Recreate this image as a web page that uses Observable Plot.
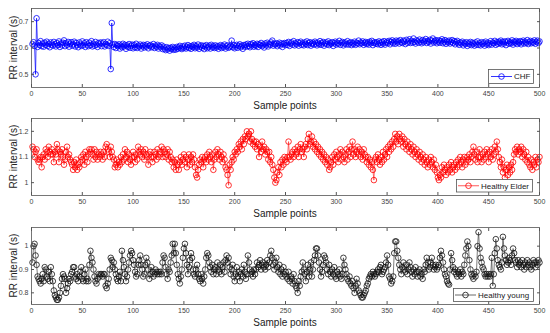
<!DOCTYPE html>
<html><head><meta charset="utf-8">
<script src="https://cdn.jsdelivr.net/npm/d3@7"></script>
<script src="https://cdn.jsdelivr.net/npm/@observablehq/plot@0.6"></script>
<style>
body{margin:0;background:#fff;}
#wrap{position:relative;width:550px;height:333px;overflow:hidden;font-family:"Liberation Sans",Arial,sans-serif;}
.panel{position:absolute;left:0;}
#leg{position:absolute;left:0;top:0;}
</style></head>
<body><div id="wrap"></div>
<script>
// RR intervals in milliseconds, samples 1..500
const chf = [
615,622,608,500,713,604,619,611,626,607,
617,605,620,612,624,608,616,603,621,613,
609,623,614,606,619,611,625,604,617,610,
620,629,607,618,612,623,605,616,622,609,
614,624,606,619,611,603,621,613,608,625,
610,618,604,622,613,607,620,611,626,606,
616,609,623,612,604,619,614,621,607,617,
622,606,615,611,624,608,618,520,695,613,
604,615,600,611,607,614,598,609,603,616,
606,612,597,610,604,615,601,608,613,599,
611,603,616,600,609,605,613,598,607,612,
602,610,605,614,599,608,611,603,606,615,
600,609,604,612,598,607,603,610,596,605,
598,592,603,595,600,590,601,596,604,593,
599,594,604,597,602,608,600,596,606,601,
609,598,604,611,600,606,597,608,603,612,
599,607,602,613,597,605,610,601,608,596,
606,611,599,604,609,598,612,603,607,600,
610,602,607,597,605,611,600,608,603,613,
598,606,610,601,604,609,628,603,611,599,
606,612,601,608,614,603,609,597,611,605,
613,606,616,608,603,615,610,618,605,612,
608,616,604,614,611,619,607,613,602,617,
610,620,606,615,612,621,628,609,616,613,
618,607,614,620,610,617,604,615,619,611,
619,612,623,608,617,621,613,626,610,618,
614,622,609,619,624,612,617,610,621,615,
625,611,618,622,609,616,620,613,624,617,
610,620,615,626,612,618,623,609,617,621,
614,625,611,619,616,622,608,618,624,613,
620,616,627,612,619,623,610,617,621,614,
626,613,618,622,611,619,615,624,612,620,
617,628,614,621,618,625,612,619,623,615,
620,613,624,618,627,611,619,622,616,621,
614,625,619,612,623,617,626,613,620,624,
619,627,614,623,629,618,624,616,628,621,
626,617,630,622,619,628,624,615,631,620,
625,633,619,627,621,636,623,617,629,625,
620,632,624,618,630,622,627,634,619,626,
623,631,617,628,636,621,626,630,618,624,
629,620,626,633,618,624,630,616,625,621,
628,617,623,630,619,626,614,622,627,618,
612,621,617,624,610,619,615,622,608,618,
614,623,611,620,616,609,621,613,625,612,
618,610,622,615,620,609,624,614,619,611,
617,626,613,621,618,627,612,622,616,624,
619,628,614,623,617,625,611,621,627,616,
622,618,629,613,624,620,627,615,623,619,
626,614,622,628,617,624,619,630,615,622,
627,618,624,620,629,616,623,628,619,625
];
const elder = [
1140,1130,1100,1120,1130,1090,1080,1090,1100,1060,
1100,1110,1090,1130,1120,1100,1140,1120,1110,1130,
1110,1080,1120,1110,1150,1130,1080,1120,1110,1130,
1100,1070,1090,1120,1140,1100,1110,1090,1080,1070,
1050,1080,1060,1090,1050,1070,1060,1080,1100,1090,
1110,1070,1120,1100,1080,1110,1130,1120,1130,1110,
1090,1130,1100,1120,1090,1110,1100,1120,1110,1090,
1120,1100,1140,1150,1130,1120,1100,1140,1120,1100,
1090,1060,1070,1090,1060,1080,1070,1100,1080,1110,
1090,1130,1100,1120,1080,1110,1090,1070,1100,1120,
1100,1080,1110,1090,1140,1120,1110,1130,1100,1120,
1090,1130,1110,1100,1070,1110,1120,1100,1080,1100,
1120,1110,1090,1130,1100,1110,1120,1140,1100,1130,
1120,1100,1110,1130,1090,1120,1100,1080,1090,1060,
1080,1050,1090,1070,1050,1080,1100,1070,1090,1110,
1080,1100,1060,1090,1110,1070,1100,1080,1110,1090,
1060,1030,1020,1050,1070,1090,1080,1100,1060,1090,
1100,1080,1110,1090,1120,1100,1080,1110,1050,1090,
1120,1100,1130,1110,1090,1120,1100,1080,1110,1090,
1060,1050,1030,990,1070,1050,1080,1100,1090,1120,
1110,1130,1120,1150,1140,1160,1130,1170,1150,1180,
1170,1200,1180,1190,1160,1200,1170,1150,1160,1140,
1160,1130,1150,1100,1140,1120,1160,1130,1140,1110,
1130,1120,1090,1120,1080,1100,1070,1050,1020,1000,
1010,1040,1060,1030,1080,1060,1090,1070,1100,1090,
1080,1100,1160,1100,1090,1110,1120,1100,1130,1110,
1120,1140,1100,1130,1150,1120,1130,1100,1140,1150,
1130,1170,1190,1150,1160,1180,1140,1160,1130,1150,
1120,1140,1110,1130,1100,1120,1090,1110,1080,1100,
1070,1090,1050,1060,1080,1100,1070,1110,1090,1120,
1100,1080,1110,1130,1090,1120,1100,1080,1110,1130,
1090,1120,1140,1100,1130,1160,1110,1130,1100,1120,
1140,1110,1130,1100,1120,1090,1130,1110,1100,1080,
1100,1070,1090,1060,1080,1050,1010,1090,1100,1080,
1110,1090,1070,1100,1080,1120,1090,1110,1130,1100,
1140,1120,1150,1130,1160,1140,1170,1190,1160,1180,
1150,1190,1170,1160,1180,1140,1170,1150,1130,1160,
1140,1120,1150,1130,1110,1140,1120,1100,1130,1110,
1090,1120,1100,1080,1110,1090,1070,1100,1080,1060,
1090,1070,1100,1080,1060,1090,1050,1070,1040,1020,
1010,1030,1020,1060,1040,1070,1050,1030,1060,1040,
1070,1050,1080,1040,1060,1070,1050,1080,1060,1090,
1070,1100,1080,1060,1090,1100,1070,1080,1100,1090,
1110,1080,1100,1120,1140,1110,1090,1120,1080,1100,
1130,1100,1080,1110,1090,1120,1100,1130,1110,1080,
1120,1100,1130,1090,1110,1140,1120,1160,1130,1100,
1080,1060,1090,1040,1060,1020,1050,1070,1030,1060,
1040,1070,1050,1080,1110,1130,1120,1140,1110,1130,
1120,1140,1100,1130,1110,1090,1120,1080,1100,1070,
1060,1090,1050,1080,1070,1100,1060,1090,1080,1100
];
const young = [
930,1000,1010,960,920,870,860,850,840,860,
880,850,910,900,870,860,890,850,910,880,
850,810,790,780,770,770,780,800,830,860,
880,870,860,800,820,840,860,850,880,890,
910,910,870,860,880,850,870,890,910,860,
850,880,900,850,860,850,920,980,950,930,
900,870,850,840,860,880,870,880,880,870,
880,880,830,820,840,860,900,950,940,910,
930,900,880,860,850,870,890,850,980,940,
910,880,850,870,900,930,960,980,970,940,
920,890,870,880,920,940,960,920,900,870,
880,920,950,930,900,860,880,910,890,870,
880,900,890,880,890,880,890,880,930,960,
950,910,880,860,900,890,930,960,1010,970,
1010,970,920,880,860,840,870,900,950,990,
1010,970,920,880,910,940,970,950,900,880,
870,900,920,880,860,850,880,860,840,870,
900,950,970,960,930,910,890,920,880,900,
910,880,930,900,890,920,880,910,930,890,
940,960,930,950,910,880,900,920,870,850,
880,910,870,890,850,880,900,870,920,890,
860,880,960,930,900,880,890,870,900,880,
900,930,910,920,940,900,920,930,910,900,
920,940,910,930,960,980,950,920,900,930,
950,910,890,920,880,900,870,910,880,890,
870,860,890,850,870,860,840,880,850,830,
820,800,850,830,870,890,930,900,880,850,
890,920,870,900,930,870,900,940,960,990,
990,960,930,900,870,890,920,960,950,930,
900,880,920,890,870,900,880,910,870,860,
890,880,900,870,860,880,950,920,900,880,
860,850,870,840,830,850,820,800,830,860,
840,810,800,790,780,780,790,800,810,830,
840,860,870,880,870,890,880,870,880,890,
900,890,910,920,880,890,900,910,930,960,
920,870,860,840,850,870,970,1020,1020,980,
950,920,900,880,910,930,900,890,920,880,
900,930,910,890,870,900,880,910,890,870,
890,900,870,880,860,900,890,920,950,930,
900,910,930,950,920,900,910,920,900,910,
920,950,980,960,930,900,880,870,850,840,
835,900,970,940,910,890,900,880,870,890,
880,900,870,890,880,920,960,990,1020,1000,
940,900,880,870,860,880,870,890,1000,1060,
990,950,930,910,900,880,870,880,870,880,
870,880,950,830,880,970,1030,990,940,920,
910,900,930,1040,990,960,940,920,930,950,
940,920,960,990,970,940,930,910,940,920,
930,910,940,920,900,930,910,940,920,930,
910,900,920,940,930,910,930,920,940,930
];
const xTicks = [0,50,100,150,200,250,300,350,400,450,500];
const chfTicks = [0.5,0.6,0.7];
const elderTicks = [1,1.1,1.2];
const youngTicks = [0.8,0.9,1];
const seriesNames = ["CHF","Healthy Elder","Healthy young"];
const xLabel = "Sample points";
const yLabel = "RR interval (s)";

const FONT = '"Liberation Sans", Arial, sans-serif';
const fmt = d3.format("~g");
const wrap = document.getElementById("wrap");
const MT = 8, ML = 31, MR = 11;

function panel(values, dotColor, lineColor, domain, yTicks, top, height, mb) {
  const data = values.map((v, i) => ({x: i + 1, y: v / 1000}));
  const chart = Plot.plot({
    width: 550, height, marginLeft: ML, marginRight: MR, marginTop: MT, marginBottom: mb,
    x: {domain: [0, 500]},
    y: {domain},
    style: {fontFamily: FONT, fontSize: "7px", color: "#444", background: "transparent", overflow: "visible"},
    marks: [
      Plot.axisX(xTicks, {anchor: "bottom", tickSize: 0, tickPadding: 4, label: null, tickFormat: fmt}),
      Plot.axisY(yTicks, {anchor: "left", tickSize: 0, tickPadding: 3, label: null, tickFormat: fmt}),
      Plot.line(data, {x: "x", y: "y", stroke: lineColor, strokeWidth: 0.7}),
      Plot.dot(data, {x: "x", y: "y", r: 2.8, stroke: dotColor, strokeWidth: 0.8, fill: "none"}),
      Plot.frame({stroke: "#555", strokeWidth: 0.8}),
      Plot.axisX(xTicks, {anchor: "bottom", tickSize: -3, tickFormat: () => "", label: null, stroke: "#555"}),
      Plot.axisX(xTicks, {anchor: "top", tickSize: -3, tickFormat: () => "", label: null, stroke: "#555"}),
      Plot.axisY(yTicks, {anchor: "left", tickSize: -3, tickFormat: () => "", label: null, stroke: "#555"}),
      Plot.axisY(yTicks, {anchor: "right", tickSize: -3, tickFormat: () => "", label: null, stroke: "#555"})
    ]
  });
  const div = document.createElement("div");
  div.className = "panel";
  div.style.top = top + "px";
  div.appendChild(chart);
  wrap.appendChild(div);
  return {fTop: top + MT, fBottom: top + height - mb};
}

const frames = [
  panel(chf, "#0000ff", "#0000ff", [0.45, 0.75], chfTicks, 0, 111, 24),
  panel(elder, "#ff0000", "#ff3030", [0.95, 1.25], elderTicks, 110, 110, 25),
  panel(young, "#111", "#444", [0.75, 1.08], youngTicks, 219, 114, 29)
];

// overlay: axis titles and legends
const svg = d3.select(wrap).append("svg").attr("id", "leg").attr("width", 550).attr("height", 333)
  .style("font-family", FONT);
frames.forEach(f => {
  const cx = (ML + 550 - MR) / 2;
  svg.append("text").attr("x", cx).attr("y", f.fBottom + 18).attr("dy", "0.35em")
    .attr("text-anchor", "middle").attr("font-size", 10).attr("fill", "#222").text(xLabel);
  svg.append("text").attr("transform", `translate(13,${(f.fTop + f.fBottom) / 2}) rotate(-90)`)
    .attr("dy", "0.35em").attr("text-anchor", "middle").attr("font-size", 10).attr("fill", "#222").text(yLabel);
});
const legendBoxes = [
  {x: 488, y: 69, w: 45, h: 14, lx1: 491, lx2: 512, c: "#0000ff", lc: "#0000ff"},
  {x: 456, y: 179, w: 76, h: 12.5, lx1: 458, lx2: 479, c: "#ff0000", lc: "#ff3030"},
  {x: 453, y: 288, w: 80, h: 13, lx1: 455, lx2: 476, c: "#111", lc: "#444"}
];
legendBoxes.forEach((b, i) => {
  const g = svg.append("g");
  g.append("rect").attr("x", b.x + 0.5).attr("y", b.y + 0.5).attr("width", b.w).attr("height", b.h)
    .attr("fill", "#fff").attr("stroke", "#555").attr("stroke-width", 0.8);
  const cy = b.y + 0.5 + b.h / 2;
  g.append("line").attr("x1", b.lx1).attr("x2", b.lx2).attr("y1", cy).attr("y2", cy)
    .attr("stroke", b.lc).attr("stroke-width", 0.8);
  g.append("circle").attr("cx", (b.lx1 + b.lx2) / 2).attr("cy", cy).attr("r", 2.8)
    .attr("fill", "none").attr("stroke", b.c).attr("stroke-width", 0.8);
  g.append("text").attr("x", b.lx2 + 2).attr("y", cy).attr("dy", "0.35em")
    .attr("font-size", 8).attr("fill", "#222").text(seriesNames[i]);
});
</script>
</body></html>
